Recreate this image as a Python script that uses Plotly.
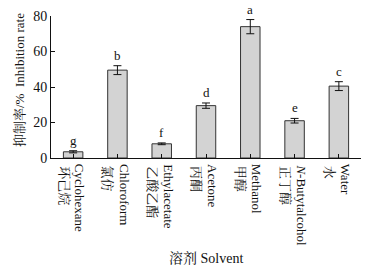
import plotly.graph_objects as go

cats_cn = ["环己烷", "氯仿", "乙酸乙酯", "丙酮", "甲醇", "正丁醇", "水"]
cats_en = ["Cyclohexane", "Chloroform", "Ethylacetate", "Acetone", "Methanol", "<i>N</i>-Butytalcohol", "Water"]
values = [3.5, 49.5, 8.0, 29.5, 74.0, 21.0, 40.5]
errors = [0.6, 2.5, 0.5, 1.5, 4.0, 1.3, 2.5]
letters = ["g", "b", "f", "d", "a", "e", "c"]
yticks = [0, 20, 40, 60, 80]

serif = "Liberation Serif, Noto Serif CJK SC, Noto Sans CJK SC, serif"
cjk = "Noto Serif CJK SC, Noto Sans CJK SC, serif"

x = list(range(len(values)))

fig = go.Figure()
fig.add_trace(go.Bar(
    x=x, y=values, width=0.44,
    marker=dict(color="#d3d3d3", line=dict(color="#333333", width=1)),
    error_y=dict(type="data", array=errors, color="#111111", thickness=1, width=4),
))

ann = []
for i, (v, e, l) in enumerate(zip(values, errors, letters)):
    ann.append(dict(x=i, y=v + e, text=l, showarrow=False, yanchor="bottom", yshift=1,
                    font=dict(family="Liberation Serif, serif", size=13, color="#111")))
    ann.append(dict(x=i, y=0, yref="paper", text=cats_cn[i], showarrow=False, textangle=90,
                    xanchor="center", yanchor="top", xshift=-8, yshift=-6,
                    font=dict(family=cjk, size=13, color="#111")))
    ann.append(dict(x=i, y=0, yref="paper", text=cats_en[i], showarrow=False, textangle=90,
                    xanchor="center", yanchor="top", xshift=7, yshift=-4,
                    font=dict(family="Liberation Serif, serif", size=13, color="#111")))
ann.append(dict(x=0.5, xref="paper", y=0, yref="paper", yshift=-100, text="溶剂 Solvent",
                showarrow=False, yanchor="middle",
                font=dict(family=serif, size=14, color="#111")))
ann.append(dict(x=0, xref="paper", xshift=-32, y=0.5, yref="paper", yshift=7,
                text="抑制率/%  Inhibition rate",
                showarrow=False, textangle=-90, xanchor="center",
                font=dict(family=serif, size=13, color="#111")))

fig.update_layout(
    width=374, height=272,
    margin=dict(l=51, r=13, t=16, b=114),
    paper_bgcolor="white", plot_bgcolor="white",
    showlegend=False,
    annotations=ann,
    xaxis=dict(range=[-0.5, 6.5], tickvals=x, ticktext=[""] * 7, automargin=False,
               showline=True, linecolor="#111",
               linewidth=1, ticks="inside", tickson="boundaries", ticklen=4, tickcolor="#111",
               showgrid=False, zeroline=False),
    yaxis=dict(range=[0, 80], tickvals=yticks, showline=True, linecolor="#111", linewidth=1,
               automargin=False,
               ticks="inside", ticklen=4, tickcolor="#111", showgrid=False, zeroline=False,
               tickfont=dict(family="Liberation Serif, serif", size=14, color="#111")),
)
fig.write_html("out.html", config={"displayModeBar": False},
               post_script="document.body.style.margin='0';document.body.style.overflow='hidden';")
